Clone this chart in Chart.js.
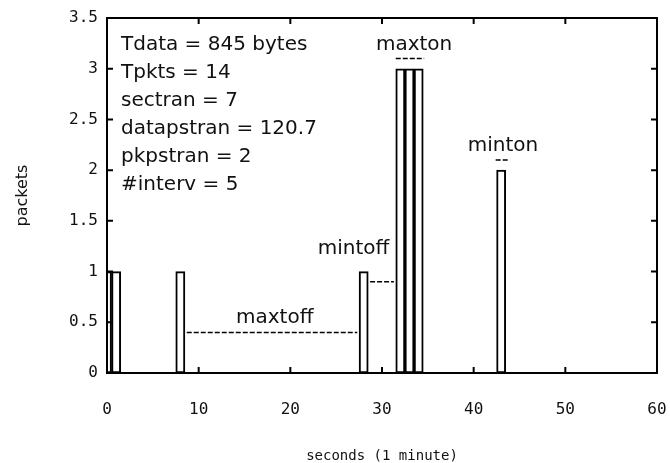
<!DOCTYPE html>
<html lang="en">
<head>
<meta charset="UTF-8">
<title>packets per second</title>
<script src="https://cdn.jsdelivr.net/npm/chart.js"></script>
<style>
  html, body { margin: 0; padding: 0; background: #fff; }
  #wrap { width: 670px; height: 463px; }
</style>
</head>
<body>
<div id="wrap"><canvas id="chart" width="670" height="463"></canvas></div>
<script>
// packets seen in each second of the trace
const seconds = [0, 1, 8, 28, 32, 33, 34, 43];
const packets = [1, 1, 1, 1, 3, 3, 3, 2];

const xTicks = [0, 10, 20, 30, 40, 50, 60];
const yTicks = [0, 0.5, 1, 1.5, 2, 2.5, 3, 3.5];

// dashed markers for on/off intervals
const gapNames = ['maxtoff', 'mintoff', 'maxton', 'minton'];
const gapFrom = [8.7, 28.7, 31.5, 42.4];
const gapTo = [27.3, 31.3, 34.6, 43.8];
const gapLevel = [0.4, 0.9, 3.1, 2.1];
const gapLabelX = [18.3, 26.9, 33.5, 43.2];
const gapLabelY = [0.54, 1.22, 3.24, 2.24];

const stats = ['Tdata = 845 bytes', 'Tpkts = 14', 'sectran = 7',
               'datapstran = 120.7', 'pkpstran = 2', '#interv = 5'];

const sans = '"DejaVu Sans", sans-serif';
const mono = '"DejaVu Sans Mono", monospace';

const datasets = [{
    type: 'bar',
    data: seconds.map((s, i) => ({ x: s, y: packets[i] })),
    backgroundColor: '#fff',
    borderColor: '#000',
    borderWidth: 2,
    borderSkipped: false,
    barPercentage: 1,
    categoryPercentage: 1
}];
gapNames.forEach((name, i) => {
    datasets.push({
        type: 'line',
        label: name,
        data: [{ x: gapFrom[i], y: gapLevel[i] }, { x: gapTo[i], y: gapLevel[i] }],
        borderColor: '#000',
        borderWidth: 1.5,
        borderDash: [5, 2],
        pointRadius: 0,
        fill: false
    });
});

const framePlugin = {
    id: 'frame',
    afterDatasetsDraw(chart) {
        const ctx = chart.ctx;
        const a = chart.chartArea;
        const x = chart.scales.x, y = chart.scales.y;
        ctx.save();
        ctx.strokeStyle = '#000';
        ctx.lineWidth = 2;
        ctx.strokeRect(a.left, a.top, a.right - a.left, a.bottom - a.top);
        ctx.beginPath();
        xTicks.slice(1, -1).forEach(v => {
            const px = x.getPixelForValue(v);
            ctx.moveTo(px, a.bottom); ctx.lineTo(px, a.bottom - 6);
            ctx.moveTo(px, a.top); ctx.lineTo(px, a.top + 6);
        });
        yTicks.slice(1, -1).forEach(v => {
            const py = y.getPixelForValue(v);
            ctx.moveTo(a.left, py); ctx.lineTo(a.left + 6, py);
            ctx.moveTo(a.right, py); ctx.lineTo(a.right - 6, py);
        });
        ctx.stroke();

        ctx.fillStyle = '#111';
        ctx.font = '20px ' + sans;
        ctx.textBaseline = 'middle';
        ctx.textAlign = 'center';
        gapNames.forEach((name, i) => {
            ctx.fillText(name, x.getPixelForValue(gapLabelX[i]), y.getPixelForValue(gapLabelY[i]));
        });
        ctx.textAlign = 'left';
        stats.forEach((s, i) => {
            ctx.fillText(s, a.left + 14, a.top + 27 + i * 28);
        });
        ctx.restore();
    }
};

new Chart(document.getElementById('chart'), {
    type: 'bar',
    data: { datasets: datasets },
    options: {
        responsive: false,
        animation: false,
        layout: { padding: { top: 18, right: 13, left: 0, bottom: 0 } },
        plugins: { legend: { display: false }, tooltip: { enabled: false } },
        scales: {
            x: {
                type: 'linear',
                min: 0, max: 60,
                offset: false,
                grid: { display: false, drawTicks: false, offset: false },
                border: { display: false },
                afterBuildTicks: s => { s.ticks = xTicks.map(v => ({ value: v })); },
                afterFit: s => { s.height = 90; s.paddingLeft = 0; s.paddingRight = 0; },
                ticks: { color: '#111', font: { family: mono, size: 16 }, padding: 27, maxRotation: 0,
                         callback: v => String(v) },
                title: { display: true, text: 'seconds (1 minute)', color: '#111',
                         font: { family: mono, size: 14, lineHeight: 1 }, padding: 0 }
            },
            y: {
                min: 0, max: 3.5,
                grid: { display: false, drawTicks: false },
                border: { display: false },
                afterBuildTicks: s => { s.ticks = yTicks.map(v => ({ value: v })); },
                afterFit: s => { s.width = 107; s.paddingTop = 0; s.paddingBottom = 0; },
                ticks: { color: '#111', font: { family: mono, size: 16 }, padding: 9,
                         callback: v => String(v) },
                title: { display: true, text: 'packets', color: '#111',
                         font: { family: sans, size: 16 }, padding: { top: 13, bottom: 0 } }
            }
        }
    },
    plugins: [framePlugin]
});
</script>
</body>
</html>
